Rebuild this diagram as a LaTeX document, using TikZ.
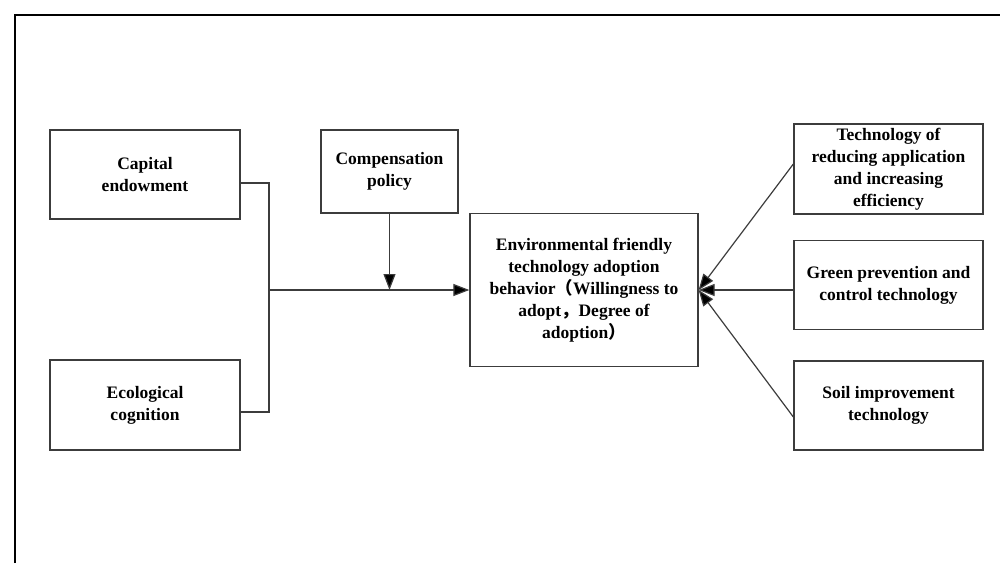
\documentclass[tikz,border=0pt]{standalone}
\usepackage{fontspec}
\setmainfont{Liberation Serif}
\newfontfamily\cjk{Noto Sans CJK SC}
\usetikzlibrary{arrows.meta}
\definecolor{boxline}{RGB}{60,60,60}
\begin{document}
\begin{tikzpicture}[x=1pt,y=-1pt,
  box/.style={draw=boxline, line width=1.3pt, rectangle, align=center,
    inner sep=0pt, font=\fontsize{17.5}{22}\selectfont\bfseries},
  conn/.style={draw=boxline, line width=1.2pt},
  arr/.style={conn, -{Triangle[length=16pt,width=12pt,fill=black]}}]
\useasboundingbox (0,0) rectangle (1000,563);
\draw[line width=2pt,black] (14.5,563) -- (14.5,15) -- (1000,15);
\node[box, minimum width=190pt, minimum height=89pt] (cap) at (145,174.5) {Capital\\endowment};
\node[box, minimum width=137pt, minimum height=83pt] (comp) at (389.5,171.5) {Compensation\\policy};
\node[box, minimum width=190pt, minimum height=90pt] (eco) at (145,405) {Ecological\\cognition};
\node[box, minimum width=228pt, minimum height=153pt] (env) at (584,290) {Environmental friendly\\technology adoption\\behavior{\cjk （}Willingness to\\adopt{\cjk ，}Degree of\\adoption{\cjk ）}};
\node[box, minimum width=189pt, minimum height=90pt] (tech) at (888.5,169) {Technology of\\reducing application\\and increasing\\efficiency};
\node[box, minimum width=189pt, minimum height=89pt] (green) at (888.5,285) {Green prevention and\\control technology};
\node[box, minimum width=189pt, minimum height=89pt] (soil) at (888.5,405.5) {Soil improvement\\technology};
\coordinate (j) at (269,290);
\draw[conn] ([yshift=-8.5pt]cap.east) -| (j) |- ([yshift=-7pt]eco.east);
\draw[arr] (j) -- (env.west |- j);
\draw[arr] (comp.south) -- (comp.south |- j);
\draw[arr] ([yshift=5pt]tech.west) -- (env.east);
\draw[arr] ([yshift=-5pt]green.west) -- (env.east);
\draw[arr] ([yshift=-11.5pt]soil.west) -- (env.east);
\end{tikzpicture}
\end{document}
